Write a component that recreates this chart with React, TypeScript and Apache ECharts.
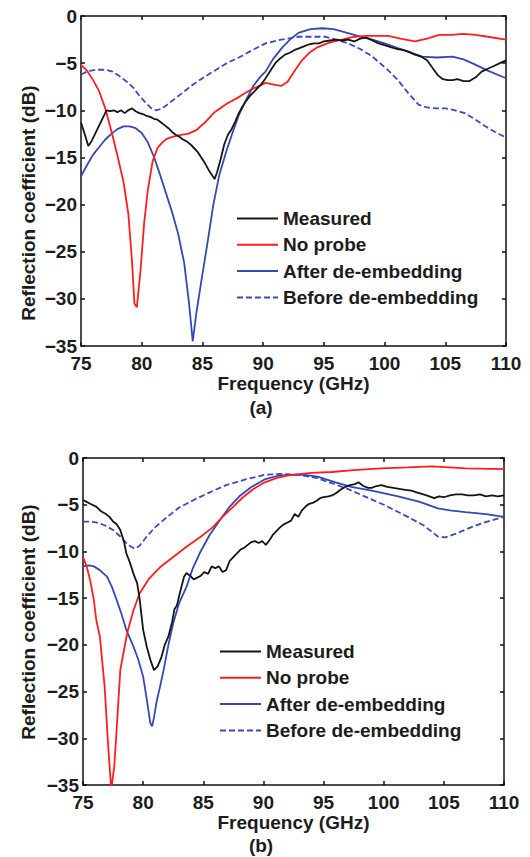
import React, { useEffect, useRef } from "react";
import * as echarts from "echarts";

const seriesNames = ["Measured", "No probe", "After de-embedding", "Before de-embedding"];
const xTicks = { min: 75, max: 110, step: 5 };
const yTicks = { min: -35, max: 0, step: 5 };

const measuredA: number[][] = [[75,-11.3],[75.3,-12.5],[75.6,-13.8],[75.9,-13.2],[76.2,-12.4],[76.5,-11.6],[76.8,-10.8],[77.1,-10.0],[77.4,-10.1],[77.7,-10.0],[78.0,-10.2],[78.3,-10.0],[78.6,-10.3],[78.9,-10.0],[79.2,-9.8],[79.5,-10.1],[79.8,-10.3],[80.1,-10.4],[80.4,-10.6],[80.7,-10.7],[81.0,-10.9],[81.3,-11.0],[81.6,-11.3],[81.9,-11.6],[82.2,-11.9],[82.5,-12.3],[82.8,-12.6],[83.1,-12.8],[83.4,-13.1],[83.7,-13.3],[84.0,-13.6],[84.3,-14.0],[84.6,-14.4],[84.9,-15.0],[85.2,-15.6],[85.5,-16.3],[85.8,-16.9],[86.0,-17.3],[86.2,-16.6],[86.5,-15.2],[86.8,-13.6],[87.1,-12.6],[87.4,-12.0],[87.7,-11.2],[88.0,-10.3],[88.3,-9.6],[88.6,-9.0],[88.9,-8.5],[89.2,-8.1],[89.5,-7.7],[89.8,-7.3],[90.1,-6.8],[90.4,-6.2],[90.7,-5.6],[91.0,-5.0],[91.4,-4.5],[91.8,-4.1],[92.2,-3.9],[92.6,-3.6],[93.0,-3.4],[93.4,-3.2],[93.8,-3.0],[94.2,-2.9],[94.6,-2.9],[95.0,-2.7],[95.5,-2.6],[96.0,-2.5],[96.5,-2.6],[97.0,-2.5],[97.5,-2.7],[98.0,-2.4],[98.5,-2.3],[99.0,-2.6],[99.5,-2.9],[100.0,-3.1],[100.5,-3.3],[101.0,-3.5],[101.5,-3.6],[102.0,-3.8],[102.5,-4.1],[103.0,-4.3],[103.5,-4.7],[104.0,-5.6],[104.4,-6.3],[104.8,-6.7],[105.2,-6.8],[105.6,-6.8],[106.0,-6.7],[106.5,-6.9],[107.0,-6.9],[107.5,-6.5],[108.0,-5.9],[108.5,-5.6],[109.0,-5.3],[109.5,-5.0],[110,-4.7]];
const noProbeA: number[][] = [[75,-5.2],[75.5,-5.8],[76,-6.8],[76.5,-8.0],[77,-9.8],[77.5,-12.2],[78,-14.8],[78.5,-17.6],[78.9,-21],[79.2,-26],[79.4,-30.5],[79.6,-30.9],[79.9,-27],[80.2,-22],[80.5,-18.5],[80.9,-15.4],[81.3,-14.0],[81.7,-13.4],[82.1,-13.0],[82.6,-12.8],[83.2,-12.6],[83.8,-12.5],[84.5,-12.1],[85.2,-11.3],[86.0,-10.2],[87.0,-9.3],[88.0,-8.6],[89.0,-7.8],[90.2,-7.1],[91.0,-7.3],[91.5,-7.4],[92.0,-7.0],[92.6,-5.8],[93.2,-4.7],[93.8,-3.9],[94.5,-3.3],[95.5,-2.8],[96.5,-2.5],[97.5,-2.2],[98.5,-2.1],[99.5,-2.1],[100.3,-2.1],[101.3,-2.4],[102.5,-2.7],[103.5,-2.4],[104.5,-2.0],[105.5,-2.0],[106.5,-1.9],[107.5,-2.0],[108.5,-2.2],[110,-2.5]];
const afterA: number[][] = [[75,-17],[75.5,-15.8],[76,-14.7],[76.5,-13.9],[77,-13.1],[77.5,-12.5],[78,-12.0],[78.5,-11.7],[79,-11.7],[79.5,-11.9],[80,-12.4],[80.5,-13.4],[81,-14.9],[81.5,-16.8],[82,-18.8],[82.5,-20.8],[83,-23.1],[83.5,-26.2],[83.9,-30.5],[84.2,-34.5],[84.5,-31.5],[84.9,-28.2],[85.4,-24.2],[85.9,-20.0],[86.4,-16.8],[87,-14.2],[87.5,-12.3],[88,-10.5],[88.6,-8.9],[89.2,-7.4],[89.8,-6.4],[90.2,-5.9],[90.8,-4.6],[91.6,-3.3],[92.3,-2.4],[92.9,-1.8],[93.9,-1.4],[94.9,-1.3],[95.8,-1.4],[96.7,-1.7],[97.8,-2.1],[99,-2.5],[100,-2.9],[101.1,-3.4],[102,-3.8],[103.1,-4.3],[104.3,-4.4],[105.6,-4.3],[106.5,-4.6],[107.2,-5.0],[108.5,-5.8],[110,-6.6]];
const beforeA: number[][] = [[75,-6.2],[75.5,-5.9],[76,-5.75],[76.5,-5.7],[77,-5.7],[77.6,-5.9],[78.2,-6.4],[78.8,-7.0],[79.3,-7.6],[79.9,-8.6],[80.4,-9.3],[80.8,-9.8],[81.2,-10.0],[81.7,-9.8],[82.2,-9.3],[82.8,-8.7],[83.5,-8.0],[84.2,-7.3],[85,-6.6],[86,-5.8],[87,-5.0],[88,-4.4],[89,-3.7],[90.2,-2.9],[91.5,-2.5],[92.9,-2.2],[94,-2.2],[95.1,-2.2],[96,-2.5],[97,-2.9],[98,-3.5],[99,-4.3],[99.8,-5.2],[100.5,-6.0],[101.1,-6.8],[101.9,-8.1],[102.8,-9.4],[103.5,-9.7],[104.3,-9.8],[105,-9.8],[105.8,-10.0],[106.6,-10.3],[107.5,-11.0],[108.3,-11.7],[109.1,-12.3],[110,-12.9]];

const measuredB: number[][] = [[75,-4.5],[75.3,-4.7],[75.6,-4.9],[76.1,-5.2],[76.5,-5.7],[76.9,-6.0],[77.2,-6.3],[77.5,-6.8],[77.8,-7.1],[78.1,-7.7],[78.4,-8.9],[78.6,-10.2],[78.9,-11.2],[79.2,-12.4],[79.5,-13.4],[79.7,-15],[80,-18.4],[80.3,-20.2],[80.6,-21.6],[80.9,-22.7],[81.2,-22.3],[81.5,-21.4],[81.8,-20.0],[82.1,-19.1],[82.4,-17.6],[82.6,-16.2],[82.8,-15.8],[83.1,-14.2],[83.4,-12.7],[83.6,-12.3],[83.9,-12.6],[84.2,-13.0],[84.5,-12.8],[84.8,-12.6],[85.1,-12.2],[85.4,-12.4],[85.7,-11.6],[86.0,-11.8],[86.3,-11.6],[86.6,-12.2],[86.9,-12.0],[87.2,-11.0],[87.5,-10.6],[87.8,-10.2],[88.1,-9.8],[88.4,-9.6],[88.7,-9.3],[89.0,-9.0],[89.3,-8.9],[89.6,-9.1],[89.9,-8.9],[90.2,-9.3],[90.5,-8.8],[90.8,-8.2],[91.1,-7.8],[91.4,-7.4],[91.7,-7.1],[92.0,-6.9],[92.3,-6.7],[92.6,-6.0],[92.9,-6.3],[93.2,-5.6],[93.5,-5.2],[93.8,-4.9],[94.1,-4.8],[94.4,-4.6],[94.7,-4.3],[95.0,-4.2],[95.4,-4.1],[95.7,-4.0],[96.0,-3.8],[96.4,-3.4],[96.8,-3.1],[97.2,-2.9],[97.6,-2.8],[97.9,-2.6],[98.3,-3.0],[98.7,-3.2],[99.0,-3.2],[99.4,-3.0],[99.8,-2.9],[100.3,-3.1],[100.8,-3.2],[101.3,-3.3],[101.8,-3.4],[102.3,-3.5],[102.8,-3.7],[103.3,-3.9],[103.8,-4.1],[104.2,-4.3],[104.6,-4.1],[105.0,-4.2],[105.5,-4.0],[106.0,-3.9],[106.5,-3.9],[107.0,-4.0],[107.5,-4.0],[108.0,-3.9],[108.5,-4.1],[109.0,-4.0],[109.5,-4.1],[110,-4.0]];
const noProbeB: number[][] = [[75,-10.6],[75.3,-11.6],[75.6,-13.1],[75.9,-15.2],[76.1,-17.3],[76.4,-19.1],[76.8,-24.5],[77.1,-31],[77.35,-35.5],[77.6,-33],[77.8,-29],[78.1,-22.7],[78.4,-20.6],[78.7,-18.6],[79.2,-16.3],[79.7,-14.5],[80.5,-12.9],[81.4,-11.7],[82.5,-10.6],[83.6,-9.5],[84.7,-8.5],[85.8,-7.4],[86.6,-6.3],[87.5,-5.2],[88.3,-4.2],[89.2,-3.3],[90.1,-2.6],[91.2,-2.1],[92.3,-1.8],[94,-1.6],[95.7,-1.5],[97.5,-1.3],[99.8,-1.1],[102,-1.0],[104,-0.9],[105.5,-1.0],[106.8,-1.1],[110,-1.2]];
const afterB: number[][] = [[75,-11.6],[75.5,-11.5],[75.9,-11.6],[76.4,-12.0],[77,-12.7],[77.4,-13.8],[77.8,-15.2],[78.2,-16.7],[78.6,-18.4],[79.2,-20.2],[79.6,-21.6],[80,-23.4],[80.3,-25.8],[80.6,-28.4],[80.75,-28.7],[80.9,-27.8],[81.1,-26.2],[81.4,-24.5],[81.7,-22.7],[82.1,-20.0],[82.5,-17.7],[83,-15.5],[83.6,-13.8],[84.1,-11.9],[84.7,-10.2],[85.5,-8.3],[86.4,-6.6],[87.2,-5.2],[88,-4.1],[89,-3.1],[90.1,-2.3],[91.2,-1.9],[92.3,-1.8],[93.4,-1.8],[94.5,-2.0],[96,-2.6],[97.3,-3.1],[99,-3.5],[101.2,-4.1],[103,-4.7],[104.5,-5.4],[105.5,-5.6],[106.8,-5.8],[108.5,-6.0],[110,-6.3]];
const beforeB: number[][] = [[75,-6.8],[75.5,-6.8],[76.1,-6.9],[76.8,-7.2],[77.5,-7.7],[78.1,-8.4],[78.6,-9.1],[79,-9.5],[79.3,-9.7],[79.7,-9.4],[80.3,-8.4],[81,-7.4],[82,-6.3],[83,-5.3],[84.2,-4.5],[85.5,-3.7],[86.9,-2.9],[88.5,-2.3],[90.1,-1.8],[91.5,-1.7],[92.9,-1.8],[94.3,-2.1],[95.7,-2.7],[97,-3.3],[98.4,-4.1],[100,-5.0],[102,-6.3],[103.3,-7.2],[104.5,-8.4],[105.1,-8.5],[106,-8.1],[107.3,-7.4],[108.6,-6.8],[110,-6.3]];

const FONT = "'Liberation Sans', Arial, sans-serif";
const TXT = "#1c1c1c";
const colors = ["#151515", "#ff1e1e", "#3448b4", "#3a4ac0"];
const SOLID_ICON = "path://M0,0h41v2h-41z";
const DASH_ICON = "path://M0,0h6v2h-6z M9,0h6v2h-6z M18,0h6v2h-6z M27,0h6v2h-6z M36,0h5v2h-5z";

function App() {
  const ref = useRef<HTMLDivElement>(null);
  useEffect(() => {
    if (!ref.current) return;
    const chart = echarts.init(ref.current, null, { renderer: "svg" });
    const fmt = (v: number) => String(v).replace("-", "\u2212");
    const mkX = (grid: number, pos: "bottom" | "top", labels: boolean) => ({
      type: "value", gridIndex: grid, position: pos,
      min: xTicks.min, max: xTicks.max, interval: xTicks.step,
      axisLine: { show: true, onZero: false, lineStyle: { color: "#111", width: 1.5 } },
      axisTick: { show: true, inside: true, length: 4, lineStyle: { color: "#111", width: 1.5 } },
      axisLabel: { show: labels, fontFamily: FONT, fontWeight: "bold", fontSize: 19, color: TXT, margin: 8 },
      splitLine: { show: false },
      name: labels ? "Frequency (GHz)" : "",
      nameLocation: "middle", nameGap: 28,
      nameTextStyle: { fontFamily: FONT, fontWeight: "bold", fontSize: 19, color: TXT },
    });
    const mkY = (grid: number, pos: "left" | "right", labels: boolean) => ({
      type: "value", gridIndex: grid, position: pos,
      min: yTicks.min, max: yTicks.max, interval: yTicks.step,
      axisLine: { show: true, onZero: false, lineStyle: { color: "#111", width: 1.5 } },
      axisTick: { show: true, inside: true, length: 4, lineStyle: { color: "#111", width: 1.5 } },
      axisLabel: { show: labels, fontFamily: FONT, fontWeight: "bold", fontSize: 19, color: TXT, margin: 4, formatter: fmt },
      splitLine: { show: false },
    });
    const sets = [[measuredA, noProbeA, afterA, beforeA], [measuredB, noProbeB, afterB, beforeB]];
    const series: any[] = [];
    sets.forEach((arr, g) => {
      arr.forEach((d, i) => {
        series.push({
          type: "line", name: seriesNames[i], data: d,
          xAxisIndex: g * 2, yAxisIndex: g * 2,
          showSymbol: false, symbol: "none", clip: true,
          lineStyle: { color: colors[i], width: 1.8, type: i === 3 ? [6, 3] : "solid" },
          itemStyle: { color: colors[i] },
          z: i === 0 ? 5 : 4 - i,
        });
      });
    });
    const legendData = seriesNames.map((n, i) => ({ name: n, icon: i === 3 ? DASH_ICON : SOLID_ICON }));
    const legendCommon = {
      orient: "vertical", itemWidth: 41, itemHeight: 2, itemGap: 7.3,
      textStyle: { fontFamily: FONT, fontWeight: "bold", fontSize: 19, color: TXT, lineHeight: 19 },
      data: legendData, selectedMode: false, padding: 0,
    };
    chart.setOption({
      animation: false,
      backgroundColor: "#fff",
      grid: [
        { left: 81, top: 16, width: 425, height: 330 },
        { left: 83, top: 458, width: 421, height: 327 },
      ],
      xAxis: [mkX(0, "bottom", true), mkX(0, "top", false), mkX(1, "bottom", true), mkX(1, "top", false)],
      yAxis: [mkY(0, "left", true), mkY(0, "right", false), mkY(1, "left", true), mkY(1, "right", false)],
      legend: [
        { ...legendCommon, left: 237, top: 209 },
        { ...legendCommon, left: 220, top: 642 },
      ],
      graphic: [
        { type: "text", x: 28, y: 203, rotation: Math.PI / 2, style: { text: "Reflection coefficient (dB)", fontFamily: FONT, fontWeight: "bold", fontSize: 19, fill: TXT, textAlign: "center", textVerticalAlign: "middle" } },
        { type: "text", x: 28, y: 622, rotation: Math.PI / 2, style: { text: "Reflection coefficient (dB)", fontFamily: FONT, fontWeight: "bold", fontSize: 19, fill: TXT, textAlign: "center", textVerticalAlign: "middle" } },
        { type: "text", x: 261, y: 407, style: { text: "(a)", fontFamily: FONT, fontWeight: "bold", fontSize: 19, fill: TXT, textAlign: "center", textVerticalAlign: "middle" } },
        { type: "text", x: 261, y: 845, style: { text: "(b)", fontFamily: FONT, fontWeight: "bold", fontSize: 19, fill: TXT, textAlign: "center", textVerticalAlign: "middle" } },
      ],
      series,
    });
    return () => chart.dispose();
  }, []);
  return <div ref={ref} style={{ position: "absolute", left: 0, top: 0, width: 530, height: 857 }} />;
}

export default App;
